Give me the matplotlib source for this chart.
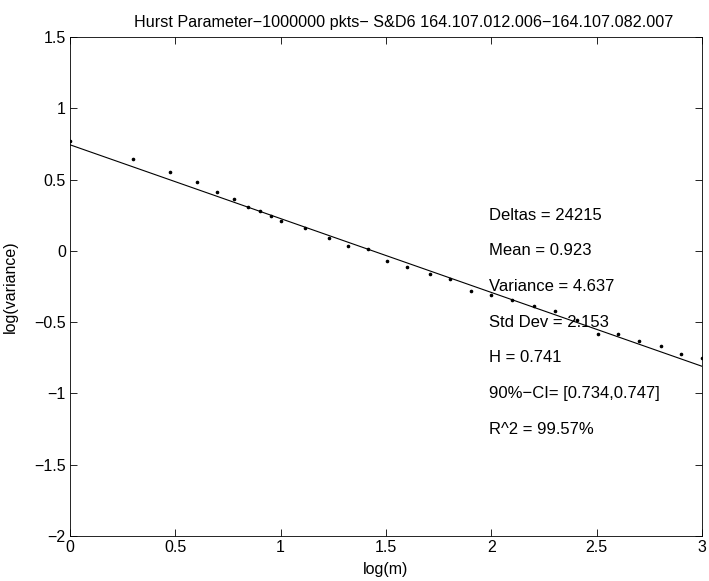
import matplotlib
matplotlib.use("Agg")
import matplotlib.pyplot as plt
import numpy as np

plt.rcParams['font.family'] = ['Liberation Sans', 'DejaVu Sans']

# log(m) and log(variance)
log_m = [0.0, 0.301, 0.477, 0.602, 0.699, 0.778, 0.845, 0.903, 0.954, 1.0,
         1.114, 1.230, 1.322, 1.415, 1.505, 1.602, 1.708, 1.806, 1.903, 2.0,
         2.100, 2.204, 2.301, 2.405, 2.505, 2.602, 2.699, 2.806, 2.903, 3.0]
log_var = [0.771, 0.647, 0.552, 0.487, 0.414, 0.365, 0.308, 0.280, 0.242, 0.212,
           0.160, 0.094, 0.035, 0.012, -0.068, -0.111, -0.162, -0.200, -0.280, -0.310,
           -0.346, -0.388, -0.423, -0.482, -0.585, -0.583, -0.633, -0.665, -0.722, -0.752]

# fitted line endpoints (slope = 2H - 2)
fit_x = [0.0, 3.0]
fit_y = [0.745, -0.809]

stats = ["Deltas = 24215", "Mean = 0.923", "Variance = 4.637", "Std Dev = 2.153",
         "H = 0.741", "90%\u2212CI= [0.734,0.747]", "R^2 = 99.57%"]
stats_y = [0.25, 0.0, -0.25, -0.5, -0.75, -1.0, -1.25]

fig = plt.figure(figsize=(7.09, 5.81), dpi=100)
ax = fig.add_axes([0.0987, 0.0775, 0.8913, 0.8585])

ax.plot(log_m, log_var, 'k.', markersize=3.2)
ax.plot(fit_x, fit_y, 'k-', linewidth=0.8)

for s, yy in zip(stats, stats_y):
    ax.text(1.99, yy, s, fontsize=12, va='center', ha='left')

ax.set_xlim(0, 3)
ax.set_ylim(-2, 1.5)
ax.set_xticks([0, 0.5, 1, 1.5, 2, 2.5, 3])
ax.set_xticklabels(['0', '0.5', '1', '1.5', '2', '2.5', '3'])
ax.set_yticks([-2, -1.5, -1, -0.5, 0, 0.5, 1, 1.5])
ax.set_yticklabels(['\u22122', '\u22121.5', '\u22121', '\u22120.5', '0', '0.5', '1', '1.5'])
ax.tick_params(direction='in', top=True, right=True, labelsize=11.5, length=5, width=0.6, pad=3)
for sp in ax.spines.values():
    sp.set_linewidth(0.6)

ax.set_xlabel("log(m)", fontsize=11.5, labelpad=5)
ax.set_ylabel("log(variance)", fontsize=11.5, labelpad=12)
ax.set_title("Hurst Parameter\u22121000000 pkts\u2212 S&D6 164.107.012.006\u2212164.107.082.007",
             fontsize=11.6, pad=7, x=0.528)

fig.savefig("out.png", dpi=100)
